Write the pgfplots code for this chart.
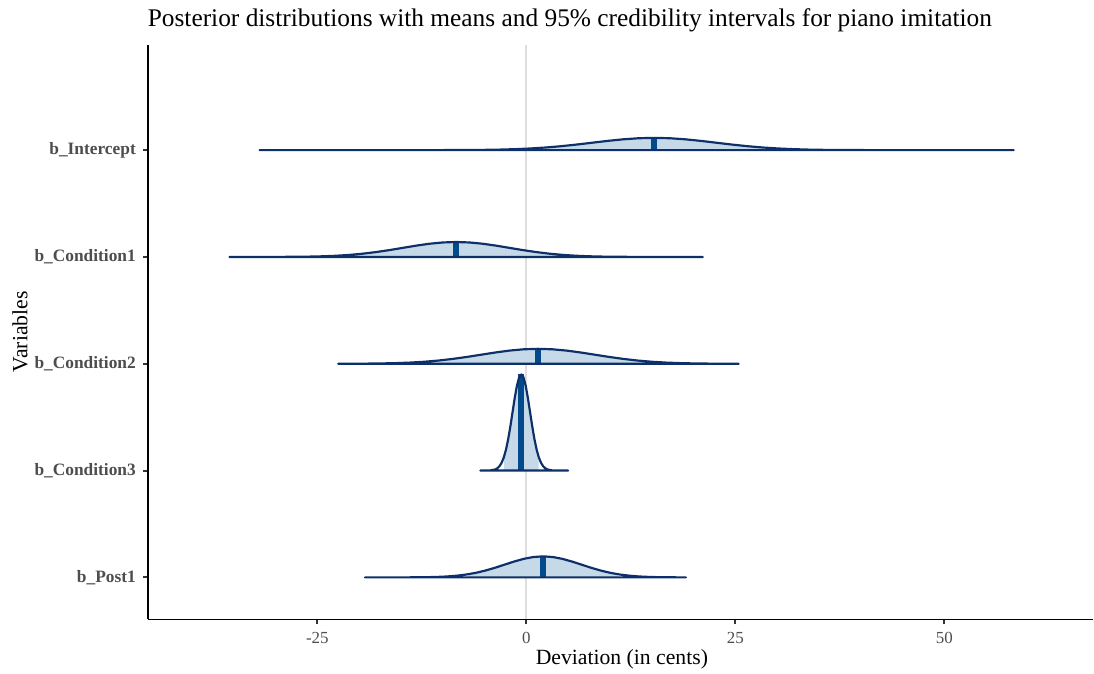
\documentclass[border=0pt]{standalone}
\usepackage{fontspec}
\setmainfont{Liberation Serif}
\usepackage{pgfplots}
\pgfplotsset{compat=1.18}
\definecolor{fillc}{HTML}{C6D9E8}
\definecolor{outc}{HTML}{0E3068}
\definecolor{meanc}{HTML}{034A8C}
\definecolor{zeroc}{HTML}{DEDEDE}
\definecolor{txtc}{HTML}{4D4D4D}

\begin{document}
\begin{tikzpicture}
\useasboundingbox (-68.2bp,-24.9bp) rectangle (434.4bp,284.6bp);
\begin{axis}[
  at={(0,0)}, anchor=south west,
  scale only axis, width=434bp, height=264bp,
  xmin=-45.2, xmax=67.8, ymin=0.606, ymax=5.986,
  axis x line*=bottom, axis y line*=left,
  axis line style={line width=0.9bp, -, black},
  xtick={-25,0,25,50}, xticklabels={-25,0,25,50},
  ytick={1,2,3,4,5},
  yticklabels={b\_Post1,b\_Condition3,b\_Condition2,b\_Condition1,b\_Intercept},
  tick align=outside, major tick length=2.3bp,
  tick style={line width=0.9bp, color=black!80},
  xticklabel style={font=\fontsize{7.8}{9}\selectfont, text=txtc},
  yticklabel style={font=\fontsize{8}{9.5}\selectfont\bfseries, text=txtc},
]
% zero reference line
\addplot[zeroc, line width=1bp] coordinates {(0,0.606)(0,5.986)};

% 95% interval areas
\addplot[fill=fillc, draw=none] coordinates {
  (0.8,5)(0.8,5.0168)(2.35,5.0249)(4.2,5.0373)(6.05,5.0526)(7.9,5.0697)(9.75,5.0868)
  (11.6,5.1015)(13.45,5.1115)(15.3,5.115)(17.15,5.1115)(19.0,5.1015)(20.85,5.0868)
  (22.7,5.0697)(24.55,5.0526)(26.4,5.0373)(28.25,5.0249)(29.8,5.0168)(29.8,5)} -- cycle;
\addplot[fill=fillc, draw=none] coordinates {
  (-20.94,4)(-20.94,4.0205)(-19.6,4.0303)(-18.0,4.0455)(-16.4,4.0641)(-14.8,4.0849)
  (-13.2,4.1057)(-11.6,4.1236)(-10.0,4.1357)(-8.4,4.14)(-6.8,4.1357)(-5.2,4.1236)
  (-3.6,4.1057)(-2.0,4.0849)(-0.4,4.0641)(1.2,4.0455)(2.8,4.0303)(4.14,4.0205)(4.14,4)} -- cycle;
\addplot[fill=fillc, draw=none] coordinates {
  (-11.93,3)(-11.93,3.0205)(-10.5,3.0303)(-8.8,3.0455)(-7.1,3.0641)(-5.4,3.0849)
  (-3.7,3.1057)(-2.0,3.1236)(-0.3,3.1357)(1.4,3.14)(3.1,3.1357)(4.8,3.1236)(6.5,3.1057)
  (8.2,3.0849)(9.9,3.0641)(11.6,3.0455)(13.3,3.0303)(14.73,3.0205)(14.73,3)} -- cycle;
\addplot[fill=fillc, draw=none] coordinates {
  (-2.658,2)(-2.658,2.1319)(-2.4375,2.1947)(-2.175,2.2922)(-1.9125,2.412)(-1.65,2.5459)
  (-1.3875,2.6793)(-1.125,2.7943)(-0.8625,2.8723)(-0.6,2.9)(-0.3375,2.8723)(-0.075,2.7943)
  (0.1875,2.6793)(0.45,2.5459)(0.7125,2.412)(0.975,2.2922)(1.2375,2.1947)(1.458,2.1319)(1.458,2)} -- cycle;
\addplot[fill=fillc, draw=none] coordinates {
  (-7.02,1)(-7.02,1.0289)(-6.05,1.0426)(-4.9,1.064)(-3.75,1.0902)(-2.6,1.1195)(-1.45,1.1487)
  (-0.3,1.1739)(0.85,1.1909)(2.0,1.197)(3.15,1.1909)(4.3,1.1739)(5.45,1.1487)(6.6,1.1195)
  (7.75,1.0902)(8.9,1.064)(10.05,1.0426)(11.02,1.0289)(11.02,1)} -- cycle;

% means
\addplot[meanc, line width=2.8bp] coordinates {(15.3,5)(15.3,5.115)};
\addplot[meanc, line width=2.8bp] coordinates {(-8.4,4)(-8.4,4.14)};
\addplot[meanc, line width=2.8bp] coordinates {(1.4,3)(1.4,3.14)};
\addplot[meanc, line width=2.8bp] coordinates {(-0.6,2)(-0.6,2.9)};
\addplot[meanc, line width=2.8bp] coordinates {(2.0,1)(2.0,1.197)};

% density outlines
\addplot[outc, line width=1bp, line join=round] coordinates {
  (-31.9,5)(-10.6,5.0003)(-6.9,5.0013)(-5.05,5.0026)(-3.2,5.005)(-1.35,5.0092)(0.5,5.0156)
  (2.35,5.0249)(4.2,5.0373)(6.05,5.0526)(7.9,5.0697)(9.75,5.0868)(11.6,5.1015)(13.45,5.1115)
  (15.3,5.115)(17.15,5.1115)(19.0,5.1015)(20.85,5.0868)(22.7,5.0697)(24.55,5.0526)(26.4,5.0373)
  (28.25,5.0249)(30.1,5.0156)(31.95,5.0092)(33.8,5.005)(35.65,5.0026)(37.5,5.0013)(41.2,5.0003)
  (58.3,5)} -- cycle;
\addplot[outc, line width=1bp, line join=round] coordinates {
  (-35.5,4)(-30.8,4.0003)(-27.6,4.0016)(-26.0,4.0032)(-24.4,4.0061)(-22.8,4.0111)(-21.2,4.0189)
  (-19.6,4.0303)(-18.0,4.0455)(-16.4,4.0641)(-14.8,4.0849)(-13.2,4.1057)(-11.6,4.1236)
  (-10.0,4.1357)(-8.4,4.14)(-6.8,4.1357)(-5.2,4.1236)(-3.6,4.1057)(-2.0,4.0849)(-0.4,4.0641)
  (1.2,4.0455)(2.8,4.0303)(4.4,4.0189)(6.0,4.0111)(7.6,4.0061)(9.2,4.0032)(10.8,4.0016)
  (14.0,4.0003)(21.1,4)} -- cycle;
\addplot[outc, line width=1bp, line join=round] coordinates {
  (-22.5,3)(-19.0,3.0016)(-17.3,3.0032)(-15.6,3.0061)(-13.9,3.0111)(-12.2,3.0189)(-10.5,3.0303)
  (-8.8,3.0455)(-7.1,3.0641)(-5.4,3.0849)(-3.7,3.1057)(-2.0,3.1236)(-0.3,3.1357)(1.4,3.14)
  (3.1,3.1357)(4.8,3.1236)(6.5,3.1057)(8.2,3.0849)(9.9,3.0641)(11.6,3.0455)(13.3,3.0303)
  (15.0,3.0189)(16.7,3.0111)(18.4,3.0061)(20.1,3.0032)(21.8,3.0016)(25.4,3)} -- cycle;
\addplot[outc, line width=1bp, line join=round] coordinates {
  (-5.5,2)(-4.275,2.002)(-3.75,2.01)(-3.4875,2.0205)(-3.225,2.0395)(-2.9625,2.0716)(-2.7,2.1218)
  (-2.4375,2.1947)(-2.175,2.2922)(-1.9125,2.412)(-1.65,2.5459)(-1.3875,2.6793)(-1.125,2.7943)
  (-0.8625,2.8723)(-0.6,2.9)(-0.3375,2.8723)(-0.075,2.7943)(0.1875,2.6793)(0.45,2.5459)
  (0.7125,2.412)(0.975,2.2922)(1.2375,2.1947)(1.5,2.1218)(1.7625,2.0716)(2.025,2.0395)
  (2.2875,2.0205)(2.55,2.01)(3.075,2.002)(5.0,2)} -- cycle;
\addplot[outc, line width=1bp, line join=round] coordinates {
  (-19.3,1)(-14.1,1.0004)(-11.8,1.0022)(-10.65,1.0045)(-9.5,1.0086)(-8.35,1.0157)(-7.2,1.0267)
  (-6.05,1.0426)(-4.9,1.064)(-3.75,1.0902)(-2.6,1.1195)(-1.45,1.1487)(-0.3,1.1739)(0.85,1.1909)
  (2.0,1.197)(3.15,1.1909)(4.3,1.1739)(5.45,1.1487)(6.6,1.1195)(7.75,1.0902)(8.9,1.064)
  (10.05,1.0426)(11.2,1.0267)(12.35,1.0157)(13.5,1.0086)(14.65,1.0045)(15.8,1.0022)(18.1,1.0004)
  (19.1,1)} -- cycle;
\end{axis}
\node[font=\fontsize{10}{12}\selectfont] at (217.5bp,-18.4bp) {Deviation (in cents)};
\node[font=\fontsize{10}{12}\selectfont, rotate=90] at (-59bp,132.2bp) {Variables};
\node[font=\fontsize{11.7}{14}\selectfont, anchor=base west, inner sep=0pt] at (-0.5bp,272.3bp)
  {Posterior distributions with means and 95\% credibility intervals for piano imitation};
\end{tikzpicture}
\end{document}
